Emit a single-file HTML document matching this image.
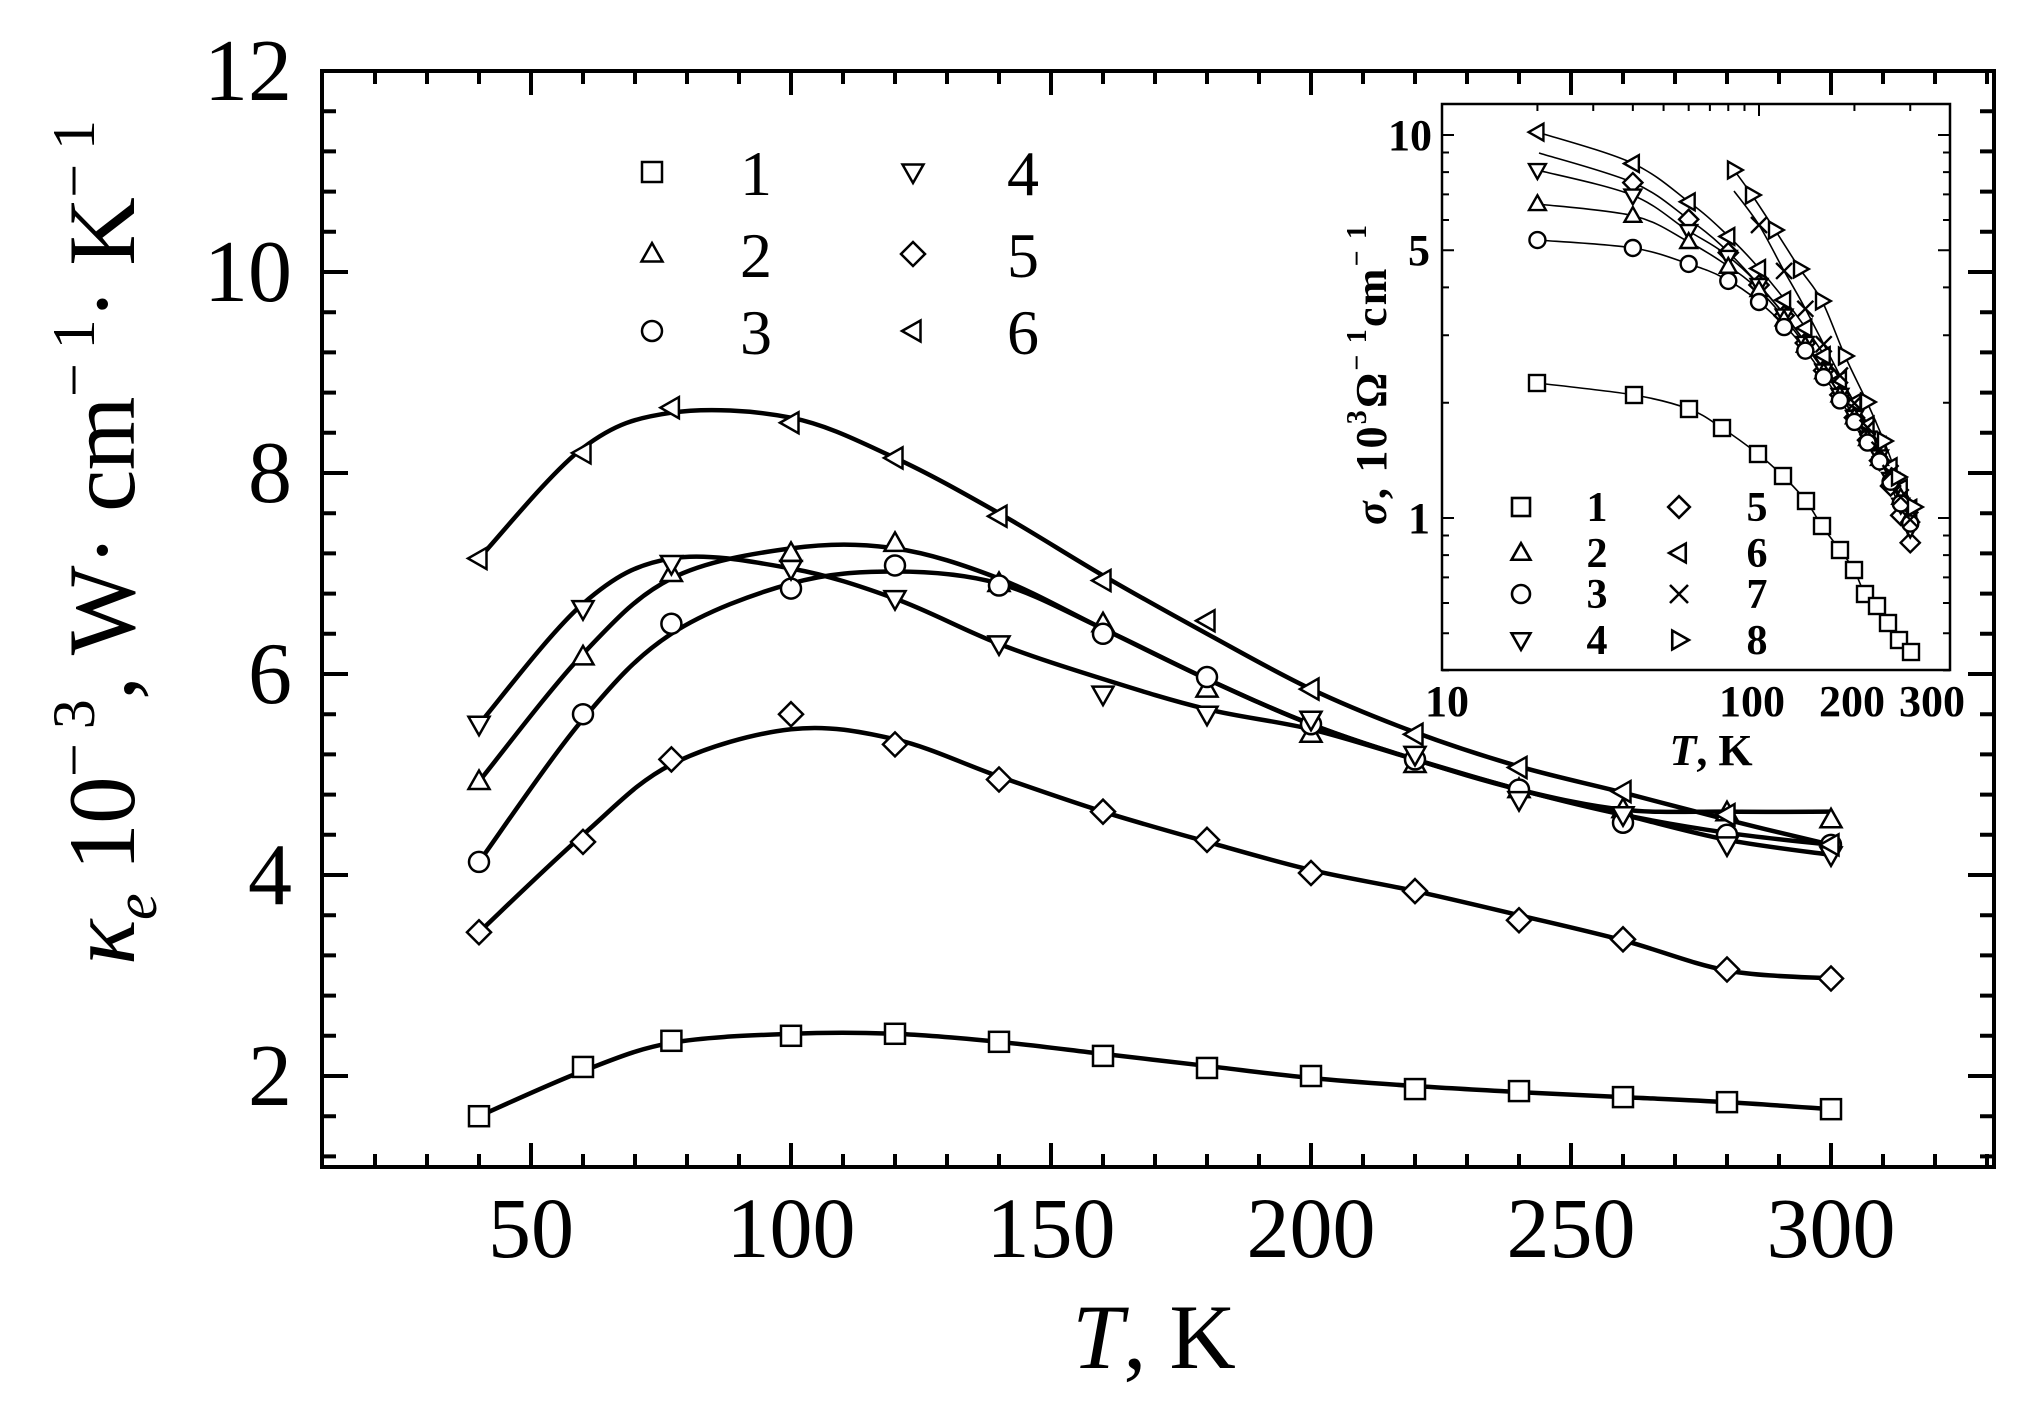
<!DOCTYPE html>
<html><head><meta charset="utf-8"><style>
html,body{margin:0;padding:0;background:#fff;}
svg{display:block;}
text{font-family:"Liberation Serif","DejaVu Serif",serif;fill:#000;}
</style></head><body>
<svg id="s" width="2035" height="1413" viewBox="0 0 2035 1413" xmlns="http://www.w3.org/2000/svg">
<rect x="0" y="0" width="2035" height="1413" fill="#fff"/>
<g id="axes"></g>
<g id="data"></g>
<rect x="322" y="71" width="1672" height="1096" fill="none" stroke="#000" stroke-width="4"/>
<g font-size="88" text-anchor="end">
<text x="292" y="100">12</text>
<text x="292" y="301">10</text>
<text x="292" y="502">8</text>
<text x="292" y="703">6</text>
<text x="292" y="904">4</text>
<text x="292" y="1105">2</text>
</g>
<g font-size="86" text-anchor="middle">
<text x="531" y="1257">50</text>
<text x="791" y="1257">100</text>
<text x="1051" y="1257">150</text>
<text x="1311" y="1257">200</text>
<text x="1571" y="1257">250</text>
<text x="1831" y="1257">300</text>
</g>
<text x="1154" y="1368" font-size="92" text-anchor="middle"><tspan font-style="italic">T</tspan>, K</text>
<text transform="translate(134,965) rotate(-90)" font-size="95" textLength="845" lengthAdjust="spacing"><tspan font-style="italic">κ</tspan><tspan font-size="60" dy="22" font-style="italic">e</tspan><tspan dy="-22"> 10</tspan><tspan font-size="60" dy="-40">− 3</tspan><tspan dy="40">, W· cm</tspan><tspan font-size="60" dy="-40">− 1</tspan><tspan dy="40">· K</tspan><tspan font-size="60" dy="-40">− 1</tspan></text>
<g font-size="64" text-anchor="middle">
<text x="756" y="195">1</text><text x="756" y="277">2</text><text x="756" y="354">3</text>
<text x="1023" y="195">4</text><text x="1023" y="277">5</text><text x="1023" y="354">6</text>
</g>
<g id="leg"></g>
<rect x="1442" y="104" width="508" height="566" fill="#fff" stroke="#000" stroke-width="2.5"/>
<g id="iaxes"></g>
<g id="idata"></g>
<g font-size="44" font-weight="bold" text-anchor="end">
<text x="1432" y="150">10</text>
<text x="1430" y="265">5</text>
<text x="1430" y="533">1</text>
</g>
<g font-size="44" font-weight="bold" text-anchor="middle">
<text x="1447" y="716">10</text>
<text x="1752" y="716">100</text>
<text x="1852" y="716">200</text>
<text x="1932" y="716">300</text>
</g>
<text x="1711" y="765" font-size="44" font-weight="bold" text-anchor="middle"><tspan font-style="italic">T</tspan>, K</text>
<text transform="translate(1386,525) rotate(-90)" font-size="44" font-weight="bold" textLength="300" lengthAdjust="spacing"><tspan font-style="italic">σ</tspan>, 10<tspan font-size="28" dy="-20">3</tspan><tspan dy="20">Ω</tspan><tspan font-size="28" dy="-20">− 1</tspan><tspan dy="20">cm</tspan><tspan font-size="28" dy="-20">− 1</tspan></text>
<g font-size="42" font-weight="bold" text-anchor="middle">
<text x="1597" y="521">1</text><text x="1597" y="567">2</text><text x="1597" y="608">3</text><text x="1597" y="654">4</text>
<text x="1757" y="521">5</text><text x="1757" y="567">6</text><text x="1757" y="608">7</text><text x="1757" y="654">8</text>
</g>
<g id="ileg"></g>
</svg>
<script>
var NS="http://www.w3.org/2000/svg";
function el(p,t,a){var e=document.createElementNS(NS,t);for(var k in a)e.setAttribute(k,a[k]);p.appendChild(e);return e;}
function marker(p,type,x,y,r,sw){
 var a={fill:"#fff",stroke:"#000","stroke-width":sw};
 if(type=="sq"){a.x=x-r;a.y=y-r;a.width=2*r;a.height=2*r;el(p,"rect",a);}
 else if(type=="ci"){a.cx=x;a.cy=y;a.r=r;el(p,"circle",a);}
 else{var pts;
  if(type=="up")pts=[[x,y-r*1.1],[x+r*1.05,y+r*0.75],[x-r*1.05,y+r*0.75]];
  if(type=="dn")pts=[[x,y+r*1.1],[x+r*1.05,y-r*0.75],[x-r*1.05,y-r*0.75]];
  if(type=="lf")pts=[[x-r*1.1,y],[x+r*0.75,y-r*1.05],[x+r*0.75,y+r*1.05]];
  if(type=="rt")pts=[[x+r*1.1,y],[x-r*0.75,y-r*1.05],[x-r*0.75,y+r*1.05]];
  if(type=="di")pts=[[x,y-r*1.2],[x+r*1.2,y],[x,y+r*1.2],[x-r*1.2,y]];
  if(type=="x"){el(p,"path",{d:"M"+(x-r)+" "+(y-r)+"L"+(x+r)+" "+(y+r)+"M"+(x+r)+" "+(y-r)+"L"+(x-r)+" "+(y+r),stroke:"#000","stroke-width":sw,fill:"none"});return;}
  a.points=pts.map(function(q){return q.join(",")}).join(" ");el(p,"polygon",a);}
}
function spline(P){var d="M"+P[0][0]+" "+P[0][1];
 for(var i=0;i<P.length-1;i++){var p0=P[Math.max(0,i-1)],p1=P[i],p2=P[i+1],p3=P[Math.min(P.length-1,i+2)];
  d+="C"+(p1[0]+(p2[0]-p0[0])/6)+" "+(p1[1]+(p2[1]-p0[1])/6)+" "+(p2[0]-(p3[0]-p1[0])/6)+" "+(p2[1]-(p3[1]-p1[1])/6)+" "+p2[0]+" "+p2[1];}
 return d;}
var ax=document.getElementById("axes");
function X(T){return 531+(T-50)*5.2;} function Y(v){return 71+(12-v)*100.5;}
var d="";
for(var T=20;T<=330;T+=10){var x=X(T),L=(T%50==0)?24:13;d+="M"+x+" 1167v"+(-L)+"M"+x+" 71v"+L;}
for(var k=0;k<=27;k++){var v=12-k*0.4;var y=Y(v);if(y>1167)break;var maj=Math.abs(v-Math.round(v))<0.01&&Math.round(v)%2==0;var L=maj?26:14;d+="M322 "+y+"h"+L+"M1994 "+y+"h"+(-L);}
el(ax,"path",{d:d,stroke:"#000","stroke-width":4,fill:"none"});
var Ts=[40,60,77,100,120,140,160,180,200,220,240,260,280,300];
var S=[
["sq",[1.6,2.09,2.35,2.4,2.42,2.34,2.2,2.08,2.0,1.87,1.85,1.79,1.74,1.67],[1.6,2.05,2.33,2.42,2.42,2.34,2.22,2.1,1.98,1.9,1.84,1.79,1.74,1.67]],
["up",[4.93,6.17,7.0,7.2,7.3,6.9,6.5,5.85,5.4,5.1,4.85,4.65,4.62,4.55],[4.93,6.2,6.95,7.25,7.25,6.95,6.45,5.95,5.5,5.15,4.85,4.65,4.63,4.63]],
["ci",[4.13,5.6,6.5,6.85,7.08,6.88,6.4,5.97,5.5,5.15,4.85,4.52,4.4,4.3],[4.13,5.55,6.4,6.9,7.02,6.9,6.45,5.95,5.5,5.15,4.85,4.6,4.42,4.3]],
["dn",[5.5,6.65,7.1,7.05,6.75,6.3,5.8,5.6,5.55,5.2,4.75,4.6,4.3,4.2],[5.5,6.7,7.15,7.05,6.75,6.3,5.95,5.65,5.45,5.15,4.85,4.6,4.35,4.2]],
["di",[3.43,4.33,5.15,5.6,5.3,4.95,4.63,4.35,4.02,3.84,3.55,3.36,3.06,2.97],[3.43,4.4,5.1,5.45,5.35,4.98,4.63,4.33,4.05,3.84,3.6,3.35,3.05,2.97]],
["lf",[7.15,8.2,8.65,8.5,8.15,7.57,6.93,6.53,5.85,5.4,5.07,4.83,4.6,4.3],[7.15,8.25,8.6,8.55,8.15,7.6,6.98,6.4,5.85,5.42,5.08,4.82,4.55,4.3]]];
var dg=document.getElementById("data");
S.forEach(function(s){var P=Ts.map(function(t,i){return [X(t),Y(s[2][i])];});
 el(dg,"path",{d:spline(P),stroke:"#000","stroke-width":4.5,fill:"none"});});
S.forEach(function(s){Ts.forEach(function(t,i){marker(dg,s[0],X(t),Y(s[1][i]),10,2.5);});});
var lg=document.getElementById("leg");
[["sq",652,172],["up",652,254],["ci",652,331],["dn",913,172],["di",913,254],["lf",913,331]].forEach(function(m){marker(lg,m[0],m[1],m[2],10,2.5);});
function IX(T){return 1442+317*Math.log10(T/10);} function IY(s){return 518-383*Math.log10(s);}
var ia=document.getElementById("iaxes");d="";
[20,30,40,50,60,70,80,90,100,200,300].forEach(function(T){var x=IX(T);var L=(T==100)?12:7;d+="M"+x+" 104v"+L;});
[0.4,0.5,0.6,0.7,0.8,0.9,1,2,3,4,5,6,7,8,9,10].forEach(function(s){var y=IY(s);var L=(s==1||s==10||s==5)?12:7;d+="M1442 "+y+"h"+L+"M1950 "+y+"h"+(-L);});
el(ia,"path",{d:d,stroke:"#000","stroke-width":2,fill:"none"});
var ig=document.getElementById("idata");
function interp(K,x){for(var i=0;i<K.length-1;i++){if(x>=K[i][0]-0.5&&x<=K[i+1][0]+0.5){var t=(x-K[i][0])/(K[i+1][0]-K[i][0]);return K[i][1]+t*(K[i+1][1]-K[i][1]);}}return K[K.length-1][1];}
var IS=[
["sq",[[1537,383],[1634,395],[1689,409],[1722,428],[1758,454],[1783,476],[1806,501],[1822,526],[1840,550],[1854,570],[1865,594],[1877,606],[1888,623],[1899,640],[1911,652]],1],
["lf",[[1537,132],[1632,163],[1689,202],[1722,230],[1757,266],[1800,320],[1850,395],[1885,455],[1912,512]]],
["di",[[1539,153],[1634,183],[1687,218],[1722,246],[1759,285],[1800,335],[1850,410],[1885,470],[1910,542]]],
["dn",[[1537,170],[1632,195],[1687,230],[1724,253],[1759,285],[1800,335],[1850,410],[1885,465],[1910,528]]],
["up",[[1537,204],[1634,216],[1687,241],[1722,262],[1759,290],[1800,338],[1850,410],[1885,468],[1912,519]]],
["ci",[[1537,240],[1633,248],[1689,264],[1724,278],[1758,301],[1800,343],[1850,415],[1885,470],[1910,523]]],
["x",[[1734,191],[1759,225],[1783,269],[1806,310],[1850,395],[1885,460],[1910,519]],2],
["rt",[[1734,170],[1752,195],[1775,230],[1800,269],[1822,301],[1845,356],[1867,402],[1884,441],[1898,477],[1914,507]],1]];
var IT=[20,40,60,80,100,120,140,160,180,200,220,240,260,280,300];
IS.forEach(function(s){el(ig,"path",{d:spline(s[1]),stroke:"#000","stroke-width":1.6,fill:"none"});});
IS.forEach(function(s){
 if(s[2]==1){s[1].forEach(function(p){marker(ig,s[0],p[0],p[1],8,2.4);});}
 else{IT.forEach(function(T){var x=IX(T);if(x<s[1][0][0]-1)return;marker(ig,s[0],x,interp(s[1],x),8,2.4);});}
});
var il=document.getElementById("ileg");
[["sq",1521,507],["up",1521,553],["ci",1521,594],["dn",1521,640],["di",1679,507],["lf",1679,553],["x",1679,594],["rt",1679,640]].forEach(function(m){marker(il,m[0],m[1],m[2],9,2.6);});
</script>
</body></html>
